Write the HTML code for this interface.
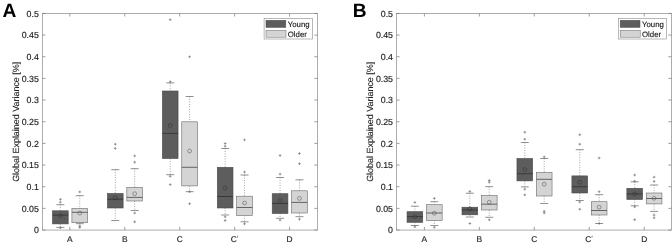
<!DOCTYPE html>
<html><head><meta charset="utf-8"><title>Boxplots</title>
<style>
html,body{margin:0;padding:0;background:#fff;}
svg{display:block;text-rendering:geometricPrecision;font-family:"Liberation Sans",sans-serif;}
.wh{stroke:#555;stroke-width:0.6;stroke-dasharray:0.9 1.6;}
.cap{stroke:#555;stroke-width:0.65;}
.out{stroke:#727272;stroke-width:0.7;fill:none;}
.tk{stroke:#777;stroke-width:0.7;}
.tl{font-size:8.8px;fill:#222;stroke:#222;stroke-width:0.15;}
.xl{font-size:8.4px;}
.yl{font-size:8.95px;fill:#222;stroke:#222;stroke-width:0.1;}
.lg{font-size:7.8px;fill:#111;stroke:#111;stroke-width:0.12;}
.pl{font-size:19.2px;font-weight:bold;fill:#000;}
</style></head><body>
<svg width="672" height="243" viewBox="0 0 672 243">
<defs><filter id="bl" x="0" y="0" width="672" height="243" filterUnits="userSpaceOnUse"><feGaussianBlur stdDeviation="0.35"/></filter></defs>
<rect width="672" height="243" fill="#fff"/>
<g filter="url(#bl)">
<line x1="60.35" y1="204.70" x2="60.35" y2="210.80" class="wh"/>
<line x1="60.35" y1="223.90" x2="60.35" y2="227.40" class="wh"/>
<line x1="56.35" y1="204.70" x2="64.35" y2="204.70" class="cap"/>
<line x1="56.35" y1="227.40" x2="64.35" y2="227.40" class="cap"/>
<rect x="52.50" y="210.80" width="15.70" height="13.10" fill="#5d5d5d" stroke="#4a4a4a" stroke-width="0.6"/>
<line x1="52.50" y1="215.10" x2="68.20" y2="215.10" stroke="#2e2e2e" stroke-width="0.8"/>
<circle cx="60.35" cy="215.70" r="1.9" fill="none" stroke="#2e2e2e" stroke-width="0.5"/>
<path d="M59.05 202.20h2.6M60.35 200.90v2.6" class="out"/>
<path d="M59.05 199.30h2.6M60.35 198.00v2.6" class="out"/>
<path d="M59.05 227.80h2.6M60.35 226.50v2.6" class="out"/>
<line x1="79.75" y1="195.70" x2="79.75" y2="208.50" class="wh"/>
<line x1="79.75" y1="222.70" x2="79.75" y2="223.70" class="wh"/>
<line x1="75.75" y1="195.70" x2="83.75" y2="195.70" class="cap"/>
<line x1="75.75" y1="223.70" x2="83.75" y2="223.70" class="cap"/>
<rect x="71.90" y="208.50" width="15.70" height="14.20" fill="#d4d4d4" stroke="#6a6a6a" stroke-width="0.6"/>
<line x1="71.90" y1="212.30" x2="87.60" y2="212.30" stroke="#484848" stroke-width="0.8"/>
<circle cx="79.75" cy="213.10" r="1.9" fill="none" stroke="#484848" stroke-width="0.5"/>
<path d="M78.45 191.90h2.6M79.75 190.60v2.6" class="out"/>
<path d="M78.45 225.90h2.6M79.75 224.60v2.6" class="out"/>
<path d="M78.45 227.40h2.6M79.75 226.10v2.6" class="out"/>
<line x1="115.28" y1="169.70" x2="115.28" y2="193.50" class="wh"/>
<line x1="115.28" y1="208.00" x2="115.28" y2="220.50" class="wh"/>
<line x1="111.28" y1="169.70" x2="119.28" y2="169.70" class="cap"/>
<line x1="111.28" y1="220.50" x2="119.28" y2="220.50" class="cap"/>
<rect x="107.43" y="193.50" width="15.70" height="14.50" fill="#5d5d5d" stroke="#4a4a4a" stroke-width="0.6"/>
<line x1="107.43" y1="199.20" x2="123.13" y2="199.20" stroke="#2e2e2e" stroke-width="0.8"/>
<circle cx="115.28" cy="197.90" r="1.9" fill="none" stroke="#2e2e2e" stroke-width="0.5"/>
<path d="M113.98 144.20h2.6M115.28 142.90v2.6" class="out"/>
<path d="M113.98 148.40h2.6M115.28 147.10v2.6" class="out"/>
<line x1="134.68" y1="168.70" x2="134.68" y2="187.40" class="wh"/>
<line x1="134.68" y1="201.00" x2="134.68" y2="210.50" class="wh"/>
<line x1="130.68" y1="168.70" x2="138.68" y2="168.70" class="cap"/>
<line x1="130.68" y1="210.50" x2="138.68" y2="210.50" class="cap"/>
<rect x="126.83" y="187.40" width="15.70" height="13.60" fill="#d4d4d4" stroke="#6a6a6a" stroke-width="0.6"/>
<line x1="126.83" y1="197.40" x2="142.53" y2="197.40" stroke="#484848" stroke-width="0.8"/>
<circle cx="134.68" cy="193.70" r="1.9" fill="none" stroke="#484848" stroke-width="0.5"/>
<path d="M133.38 155.90h2.6M134.68 154.60v2.6" class="out"/>
<path d="M133.38 162.20h2.6M134.68 160.90v2.6" class="out"/>
<path d="M133.38 213.00h2.6M134.68 211.70v2.6" class="out"/>
<path d="M133.38 221.80h2.6M134.68 220.50v2.6" class="out"/>
<line x1="170.21" y1="82.90" x2="170.21" y2="91.00" class="wh"/>
<line x1="170.21" y1="158.50" x2="170.21" y2="174.70" class="wh"/>
<line x1="166.21" y1="82.90" x2="174.21" y2="82.90" class="cap"/>
<line x1="166.21" y1="174.70" x2="174.21" y2="174.70" class="cap"/>
<rect x="162.36" y="91.00" width="15.70" height="67.50" fill="#5d5d5d" stroke="#4a4a4a" stroke-width="0.6"/>
<line x1="162.36" y1="133.40" x2="178.06" y2="133.40" stroke="#2e2e2e" stroke-width="0.8"/>
<circle cx="170.21" cy="125.40" r="1.9" fill="none" stroke="#2e2e2e" stroke-width="0.5"/>
<path d="M168.91 19.70h2.6M170.21 18.40v2.6" class="out"/>
<path d="M168.91 81.70h2.6M170.21 80.40v2.6" class="out"/>
<path d="M168.91 176.30h2.6M170.21 175.00v2.6" class="out"/>
<path d="M168.91 184.60h2.6M170.21 183.30v2.6" class="out"/>
<line x1="189.61" y1="96.50" x2="189.61" y2="121.80" class="wh"/>
<line x1="189.61" y1="185.90" x2="189.61" y2="191.70" class="wh"/>
<line x1="185.61" y1="96.50" x2="193.61" y2="96.50" class="cap"/>
<line x1="185.61" y1="191.70" x2="193.61" y2="191.70" class="cap"/>
<rect x="181.76" y="121.80" width="15.70" height="64.10" fill="#d4d4d4" stroke="#6a6a6a" stroke-width="0.6"/>
<line x1="181.76" y1="167.30" x2="197.46" y2="167.30" stroke="#484848" stroke-width="0.8"/>
<circle cx="189.61" cy="151.00" r="1.9" fill="none" stroke="#484848" stroke-width="0.5"/>
<path d="M188.31 56.80h2.6M189.61 55.50v2.6" class="out"/>
<path d="M188.31 191.70h2.6M189.61 190.40v2.6" class="out"/>
<path d="M188.31 203.70h2.6M189.61 202.40v2.6" class="out"/>
<line x1="225.14" y1="148.50" x2="225.14" y2="167.30" class="wh"/>
<line x1="225.14" y1="208.00" x2="225.14" y2="215.00" class="wh"/>
<line x1="221.14" y1="148.50" x2="229.14" y2="148.50" class="cap"/>
<line x1="221.14" y1="215.00" x2="229.14" y2="215.00" class="cap"/>
<rect x="217.29" y="167.30" width="15.70" height="40.70" fill="#5d5d5d" stroke="#4a4a4a" stroke-width="0.6"/>
<line x1="217.29" y1="196.50" x2="232.99" y2="196.50" stroke="#2e2e2e" stroke-width="0.8"/>
<circle cx="225.14" cy="187.90" r="1.9" fill="none" stroke="#2e2e2e" stroke-width="0.5"/>
<path d="M223.84 143.50h2.6M225.14 142.20v2.6" class="out"/>
<path d="M223.84 146.20h2.6M225.14 144.90v2.6" class="out"/>
<path d="M223.84 216.80h2.6M225.14 215.50v2.6" class="out"/>
<path d="M223.84 220.50h2.6M225.14 219.20v2.6" class="out"/>
<line x1="244.54" y1="175.00" x2="244.54" y2="196.20" class="wh"/>
<line x1="244.54" y1="215.50" x2="244.54" y2="221.80" class="wh"/>
<line x1="240.54" y1="175.00" x2="248.54" y2="175.00" class="cap"/>
<line x1="240.54" y1="221.80" x2="248.54" y2="221.80" class="cap"/>
<rect x="236.69" y="196.20" width="15.70" height="19.30" fill="#d4d4d4" stroke="#6a6a6a" stroke-width="0.6"/>
<line x1="236.69" y1="207.50" x2="252.39" y2="207.50" stroke="#484848" stroke-width="0.8"/>
<circle cx="244.54" cy="203.00" r="1.9" fill="none" stroke="#484848" stroke-width="0.5"/>
<path d="M243.24 139.90h2.6M244.54 138.60v2.6" class="out"/>
<path d="M243.24 172.00h2.6M244.54 170.70v2.6" class="out"/>
<path d="M243.24 223.80h2.6M244.54 222.50v2.6" class="out"/>
<line x1="280.07" y1="177.50" x2="280.07" y2="193.70" class="wh"/>
<line x1="280.07" y1="213.50" x2="280.07" y2="218.30" class="wh"/>
<line x1="276.07" y1="177.50" x2="284.07" y2="177.50" class="cap"/>
<line x1="276.07" y1="218.30" x2="284.07" y2="218.30" class="cap"/>
<rect x="272.22" y="193.70" width="15.70" height="19.80" fill="#5d5d5d" stroke="#4a4a4a" stroke-width="0.6"/>
<line x1="272.22" y1="203.40" x2="287.92" y2="203.40" stroke="#2e2e2e" stroke-width="0.8"/>
<circle cx="280.07" cy="200.40" r="1.9" fill="none" stroke="#2e2e2e" stroke-width="0.5"/>
<path d="M278.77 155.50h2.6M280.07 154.20v2.6" class="out"/>
<path d="M278.77 174.10h2.6M280.07 172.80v2.6" class="out"/>
<path d="M278.77 220.00h2.6M280.07 218.70v2.6" class="out"/>
<line x1="299.47" y1="179.80" x2="299.47" y2="190.80" class="wh"/>
<line x1="299.47" y1="213.00" x2="299.47" y2="216.70" class="wh"/>
<line x1="295.47" y1="179.80" x2="303.47" y2="179.80" class="cap"/>
<line x1="295.47" y1="216.70" x2="303.47" y2="216.70" class="cap"/>
<rect x="291.62" y="190.80" width="15.70" height="22.20" fill="#d4d4d4" stroke="#6a6a6a" stroke-width="0.6"/>
<line x1="291.62" y1="202.40" x2="307.32" y2="202.40" stroke="#484848" stroke-width="0.8"/>
<circle cx="299.47" cy="198.40" r="1.9" fill="none" stroke="#484848" stroke-width="0.5"/>
<path d="M298.17 153.50h2.6M299.47 152.20v2.6" class="out"/>
<path d="M298.17 163.70h2.6M299.47 162.40v2.6" class="out"/>
<path d="M298.17 219.20h2.6M299.47 217.90v2.6" class="out"/>
<rect x="42.45" y="13.40" width="274.95" height="216.65" fill="none" stroke="#8a8a8a" stroke-width="0.7"/>
<line x1="42.45" y1="230.05" x2="45.55" y2="230.05" class="tk"/>
<line x1="317.40" y1="230.05" x2="314.30" y2="230.05" class="tk"/>
<text x="38.85" y="233.35" text-anchor="end" class="tl">0</text>
<line x1="42.45" y1="208.39" x2="45.55" y2="208.39" class="tk"/>
<line x1="317.40" y1="208.39" x2="314.30" y2="208.39" class="tk"/>
<text x="38.85" y="211.69" text-anchor="end" class="tl">0.05</text>
<line x1="42.45" y1="186.72" x2="45.55" y2="186.72" class="tk"/>
<line x1="317.40" y1="186.72" x2="314.30" y2="186.72" class="tk"/>
<text x="38.85" y="190.02" text-anchor="end" class="tl">0.1</text>
<line x1="42.45" y1="165.06" x2="45.55" y2="165.06" class="tk"/>
<line x1="317.40" y1="165.06" x2="314.30" y2="165.06" class="tk"/>
<text x="38.85" y="168.36" text-anchor="end" class="tl">0.15</text>
<line x1="42.45" y1="143.39" x2="45.55" y2="143.39" class="tk"/>
<line x1="317.40" y1="143.39" x2="314.30" y2="143.39" class="tk"/>
<text x="38.85" y="146.69" text-anchor="end" class="tl">0.2</text>
<line x1="42.45" y1="121.73" x2="45.55" y2="121.73" class="tk"/>
<line x1="317.40" y1="121.73" x2="314.30" y2="121.73" class="tk"/>
<text x="38.85" y="125.03" text-anchor="end" class="tl">0.25</text>
<line x1="42.45" y1="100.06" x2="45.55" y2="100.06" class="tk"/>
<line x1="317.40" y1="100.06" x2="314.30" y2="100.06" class="tk"/>
<text x="38.85" y="103.36" text-anchor="end" class="tl">0.3</text>
<line x1="42.45" y1="78.39" x2="45.55" y2="78.39" class="tk"/>
<line x1="317.40" y1="78.39" x2="314.30" y2="78.39" class="tk"/>
<text x="38.85" y="81.69" text-anchor="end" class="tl">0.35</text>
<line x1="42.45" y1="56.73" x2="45.55" y2="56.73" class="tk"/>
<line x1="317.40" y1="56.73" x2="314.30" y2="56.73" class="tk"/>
<text x="38.85" y="60.03" text-anchor="end" class="tl">0.4</text>
<line x1="42.45" y1="35.06" x2="45.55" y2="35.06" class="tk"/>
<line x1="317.40" y1="35.06" x2="314.30" y2="35.06" class="tk"/>
<text x="38.85" y="38.36" text-anchor="end" class="tl">0.45</text>
<line x1="42.45" y1="13.40" x2="45.55" y2="13.40" class="tk"/>
<line x1="317.40" y1="13.40" x2="314.30" y2="13.40" class="tk"/>
<text x="38.85" y="16.70" text-anchor="end" class="tl">0.5</text>
<line x1="69.85" y1="230.05" x2="69.85" y2="226.95" class="tk"/>
<line x1="69.85" y1="13.40" x2="69.85" y2="16.50" class="tk"/>
<text x="69.85" y="241.65" text-anchor="middle" class="tl xl">A</text>
<line x1="124.78" y1="230.05" x2="124.78" y2="226.95" class="tk"/>
<line x1="124.78" y1="13.40" x2="124.78" y2="16.50" class="tk"/>
<text x="124.78" y="241.65" text-anchor="middle" class="tl xl">B</text>
<line x1="179.71" y1="230.05" x2="179.71" y2="226.95" class="tk"/>
<line x1="179.71" y1="13.40" x2="179.71" y2="16.50" class="tk"/>
<text x="179.71" y="241.65" text-anchor="middle" class="tl xl">C</text>
<line x1="234.64" y1="230.05" x2="234.64" y2="226.95" class="tk"/>
<line x1="234.64" y1="13.40" x2="234.64" y2="16.50" class="tk"/>
<text x="233.74" y="241.65" text-anchor="middle" class="tl xl">C</text>
<path d="M237.64 235.65l-0.3 1.9" stroke="#555" stroke-width="0.7" fill="none"/>
<line x1="289.57" y1="230.05" x2="289.57" y2="226.95" class="tk"/>
<line x1="289.57" y1="13.40" x2="289.57" y2="16.50" class="tk"/>
<text x="289.57" y="241.65" text-anchor="middle" class="tl xl">D</text>
<text transform="translate(18.50 121.8) rotate(-90)" text-anchor="middle" class="yl">Global Explained Variance [%]</text>
<text x="2.60" y="16.6" class="pl">A</text>
<rect x="264.10" y="18.4" width="48.3" height="20.6" fill="#fff" stroke="#8a8a8a" stroke-width="0.6"/>
<rect x="266.00" y="20.3" width="19.8" height="7.1" fill="#5d5d5d" stroke="#4a4a4a" stroke-width="0.5"/>
<rect x="266.00" y="30.3" width="20" height="6.9" fill="#d4d4d4" stroke="#6a6a6a" stroke-width="0.5"/>
<text x="287.80" y="26.8" class="lg">Young</text>
<text x="287.80" y="36.8" class="lg">Older</text>
<line x1="414.90" y1="206.20" x2="414.90" y2="211.70" class="wh"/>
<line x1="414.90" y1="222.30" x2="414.90" y2="225.50" class="wh"/>
<line x1="410.90" y1="206.20" x2="418.90" y2="206.20" class="cap"/>
<line x1="410.90" y1="225.50" x2="418.90" y2="225.50" class="cap"/>
<rect x="407.05" y="211.70" width="15.70" height="10.60" fill="#5d5d5d" stroke="#4a4a4a" stroke-width="0.6"/>
<line x1="407.05" y1="216.70" x2="422.75" y2="216.70" stroke="#2e2e2e" stroke-width="0.8"/>
<circle cx="414.90" cy="216.70" r="1.9" fill="none" stroke="#2e2e2e" stroke-width="0.5"/>
<path d="M413.60 202.40h2.6M414.90 201.10v2.6" class="out"/>
<path d="M413.60 226.80h2.6M414.90 225.50v2.6" class="out"/>
<line x1="434.30" y1="201.70" x2="434.30" y2="204.70" class="wh"/>
<line x1="434.30" y1="220.50" x2="434.30" y2="225.50" class="wh"/>
<line x1="430.30" y1="201.70" x2="438.30" y2="201.70" class="cap"/>
<line x1="430.30" y1="225.50" x2="438.30" y2="225.50" class="cap"/>
<rect x="426.45" y="204.70" width="15.70" height="15.80" fill="#d4d4d4" stroke="#6a6a6a" stroke-width="0.6"/>
<line x1="426.45" y1="213.00" x2="442.15" y2="213.00" stroke="#484848" stroke-width="0.8"/>
<circle cx="434.30" cy="213.20" r="1.9" fill="none" stroke="#484848" stroke-width="0.5"/>
<path d="M433.00 198.40h2.6M434.30 197.10v2.6" class="out"/>
<path d="M433.00 227.30h2.6M434.30 226.00v2.6" class="out"/>
<line x1="469.85" y1="193.20" x2="469.85" y2="207.20" class="wh"/>
<line x1="469.85" y1="214.80" x2="469.85" y2="217.00" class="wh"/>
<line x1="465.85" y1="193.20" x2="473.85" y2="193.20" class="cap"/>
<line x1="465.85" y1="217.00" x2="473.85" y2="217.00" class="cap"/>
<rect x="462.00" y="207.20" width="15.70" height="7.60" fill="#5d5d5d" stroke="#4a4a4a" stroke-width="0.6"/>
<line x1="462.00" y1="210.00" x2="477.70" y2="210.00" stroke="#2e2e2e" stroke-width="0.8"/>
<circle cx="469.85" cy="208.90" r="1.9" fill="none" stroke="#2e2e2e" stroke-width="0.5"/>
<path d="M468.55 191.40h2.6M469.85 190.10v2.6" class="out"/>
<path d="M468.55 223.50h2.6M469.85 222.20v2.6" class="out"/>
<line x1="489.25" y1="186.70" x2="489.25" y2="195.50" class="wh"/>
<line x1="489.25" y1="210.00" x2="489.25" y2="217.30" class="wh"/>
<line x1="485.25" y1="186.70" x2="493.25" y2="186.70" class="cap"/>
<line x1="485.25" y1="217.30" x2="493.25" y2="217.30" class="cap"/>
<rect x="481.40" y="195.50" width="15.70" height="14.50" fill="#d4d4d4" stroke="#6a6a6a" stroke-width="0.6"/>
<line x1="481.40" y1="204.20" x2="497.10" y2="204.20" stroke="#484848" stroke-width="0.8"/>
<circle cx="489.25" cy="202.20" r="1.9" fill="none" stroke="#484848" stroke-width="0.5"/>
<path d="M487.95 180.40h2.6M489.25 179.10v2.6" class="out"/>
<path d="M487.95 182.20h2.6M489.25 180.90v2.6" class="out"/>
<path d="M487.95 219.80h2.6M489.25 218.50v2.6" class="out"/>
<line x1="524.80" y1="142.50" x2="524.80" y2="158.50" class="wh"/>
<line x1="524.80" y1="180.90" x2="524.80" y2="186.90" class="wh"/>
<line x1="520.80" y1="142.50" x2="528.80" y2="142.50" class="cap"/>
<line x1="520.80" y1="186.90" x2="528.80" y2="186.90" class="cap"/>
<rect x="516.95" y="158.50" width="15.70" height="22.40" fill="#5d5d5d" stroke="#4a4a4a" stroke-width="0.6"/>
<line x1="516.95" y1="173.70" x2="532.65" y2="173.70" stroke="#2e2e2e" stroke-width="0.8"/>
<circle cx="524.80" cy="169.50" r="1.9" fill="none" stroke="#2e2e2e" stroke-width="0.5"/>
<path d="M523.50 132.20h2.6M524.80 130.90v2.6" class="out"/>
<path d="M523.50 139.20h2.6M524.80 137.90v2.6" class="out"/>
<path d="M523.50 189.20h2.6M524.80 187.90v2.6" class="out"/>
<path d="M523.50 194.90h2.6M524.80 193.60v2.6" class="out"/>
<line x1="544.20" y1="158.50" x2="544.20" y2="172.40" class="wh"/>
<line x1="544.20" y1="196.00" x2="544.20" y2="203.50" class="wh"/>
<line x1="540.20" y1="158.50" x2="548.20" y2="158.50" class="cap"/>
<line x1="540.20" y1="203.50" x2="548.20" y2="203.50" class="cap"/>
<rect x="536.35" y="172.40" width="15.70" height="23.60" fill="#d4d4d4" stroke="#6a6a6a" stroke-width="0.6"/>
<line x1="536.35" y1="179.30" x2="552.05" y2="179.30" stroke="#484848" stroke-width="0.8"/>
<circle cx="544.20" cy="184.20" r="1.9" fill="none" stroke="#484848" stroke-width="0.5"/>
<path d="M542.90 156.90h2.6M544.20 155.60v2.6" class="out"/>
<path d="M542.90 211.30h2.6M544.20 210.00v2.6" class="out"/>
<path d="M542.90 213.00h2.6M544.20 211.70v2.6" class="out"/>
<line x1="579.75" y1="149.70" x2="579.75" y2="175.90" class="wh"/>
<line x1="579.75" y1="193.00" x2="579.75" y2="200.50" class="wh"/>
<line x1="575.75" y1="149.70" x2="583.75" y2="149.70" class="cap"/>
<line x1="575.75" y1="200.50" x2="583.75" y2="200.50" class="cap"/>
<rect x="571.90" y="175.90" width="15.70" height="17.10" fill="#5d5d5d" stroke="#4a4a4a" stroke-width="0.6"/>
<line x1="571.90" y1="186.70" x2="587.60" y2="186.70" stroke="#2e2e2e" stroke-width="0.8"/>
<circle cx="579.75" cy="182.20" r="1.9" fill="none" stroke="#2e2e2e" stroke-width="0.5"/>
<path d="M578.45 134.70h2.6M579.75 133.40v2.6" class="out"/>
<path d="M578.45 144.20h2.6M579.75 142.90v2.6" class="out"/>
<path d="M578.45 202.00h2.6M579.75 200.70v2.6" class="out"/>
<path d="M578.45 209.20h2.6M579.75 207.90v2.6" class="out"/>
<line x1="599.15" y1="194.70" x2="599.15" y2="201.70" class="wh"/>
<line x1="599.15" y1="215.00" x2="599.15" y2="223.50" class="wh"/>
<line x1="595.15" y1="194.70" x2="603.15" y2="194.70" class="cap"/>
<line x1="595.15" y1="223.50" x2="603.15" y2="223.50" class="cap"/>
<rect x="591.30" y="201.70" width="15.70" height="13.30" fill="#d4d4d4" stroke="#6a6a6a" stroke-width="0.6"/>
<line x1="591.30" y1="210.50" x2="607.00" y2="210.50" stroke="#484848" stroke-width="0.8"/>
<circle cx="599.15" cy="207.20" r="1.9" fill="none" stroke="#484848" stroke-width="0.5"/>
<path d="M597.85 158.00h2.6M599.15 156.70v2.6" class="out"/>
<path d="M597.85 191.70h2.6M599.15 190.40v2.6" class="out"/>
<path d="M597.85 223.50h2.6M599.15 222.20v2.6" class="out"/>
<line x1="634.70" y1="181.80" x2="634.70" y2="188.30" class="wh"/>
<line x1="634.70" y1="199.50" x2="634.70" y2="205.80" class="wh"/>
<line x1="630.70" y1="181.80" x2="638.70" y2="181.80" class="cap"/>
<line x1="630.70" y1="205.80" x2="638.70" y2="205.80" class="cap"/>
<rect x="626.85" y="188.30" width="15.70" height="11.20" fill="#5d5d5d" stroke="#4a4a4a" stroke-width="0.6"/>
<line x1="626.85" y1="193.90" x2="642.55" y2="193.90" stroke="#2e2e2e" stroke-width="0.8"/>
<circle cx="634.70" cy="193.90" r="1.9" fill="none" stroke="#2e2e2e" stroke-width="0.5"/>
<path d="M633.40 175.00h2.6M634.70 173.70v2.6" class="out"/>
<path d="M633.40 181.20h2.6M634.70 179.90v2.6" class="out"/>
<path d="M633.40 206.90h2.6M634.70 205.60v2.6" class="out"/>
<path d="M633.40 219.70h2.6M634.70 218.40v2.6" class="out"/>
<line x1="654.10" y1="185.00" x2="654.10" y2="193.00" class="wh"/>
<line x1="654.10" y1="203.90" x2="654.10" y2="211.40" class="wh"/>
<line x1="650.10" y1="185.00" x2="658.10" y2="185.00" class="cap"/>
<line x1="650.10" y1="211.40" x2="658.10" y2="211.40" class="cap"/>
<rect x="646.25" y="193.00" width="15.70" height="10.90" fill="#d4d4d4" stroke="#6a6a6a" stroke-width="0.6"/>
<line x1="646.25" y1="198.50" x2="661.95" y2="198.50" stroke="#484848" stroke-width="0.8"/>
<circle cx="654.10" cy="198.30" r="1.9" fill="none" stroke="#484848" stroke-width="0.5"/>
<path d="M652.80 177.10h2.6M654.10 175.80v2.6" class="out"/>
<path d="M652.80 181.40h2.6M654.10 180.10v2.6" class="out"/>
<path d="M652.80 215.00h2.6M654.10 213.70v2.6" class="out"/>
<path d="M652.80 217.80h2.6M654.10 216.50v2.6" class="out"/>
<rect x="396.50" y="13.40" width="274.90" height="216.65" fill="none" stroke="#8a8a8a" stroke-width="0.7"/>
<line x1="396.50" y1="230.05" x2="399.60" y2="230.05" class="tk"/>
<line x1="671.40" y1="230.05" x2="668.30" y2="230.05" class="tk"/>
<text x="393.00" y="233.35" text-anchor="end" class="tl">0</text>
<line x1="396.50" y1="208.39" x2="399.60" y2="208.39" class="tk"/>
<line x1="671.40" y1="208.39" x2="668.30" y2="208.39" class="tk"/>
<text x="393.00" y="211.69" text-anchor="end" class="tl">0.05</text>
<line x1="396.50" y1="186.72" x2="399.60" y2="186.72" class="tk"/>
<line x1="671.40" y1="186.72" x2="668.30" y2="186.72" class="tk"/>
<text x="393.00" y="190.02" text-anchor="end" class="tl">0.1</text>
<line x1="396.50" y1="165.06" x2="399.60" y2="165.06" class="tk"/>
<line x1="671.40" y1="165.06" x2="668.30" y2="165.06" class="tk"/>
<text x="393.00" y="168.36" text-anchor="end" class="tl">0.15</text>
<line x1="396.50" y1="143.39" x2="399.60" y2="143.39" class="tk"/>
<line x1="671.40" y1="143.39" x2="668.30" y2="143.39" class="tk"/>
<text x="393.00" y="146.69" text-anchor="end" class="tl">0.2</text>
<line x1="396.50" y1="121.73" x2="399.60" y2="121.73" class="tk"/>
<line x1="671.40" y1="121.73" x2="668.30" y2="121.73" class="tk"/>
<text x="393.00" y="125.03" text-anchor="end" class="tl">0.25</text>
<line x1="396.50" y1="100.06" x2="399.60" y2="100.06" class="tk"/>
<line x1="671.40" y1="100.06" x2="668.30" y2="100.06" class="tk"/>
<text x="393.00" y="103.36" text-anchor="end" class="tl">0.3</text>
<line x1="396.50" y1="78.39" x2="399.60" y2="78.39" class="tk"/>
<line x1="671.40" y1="78.39" x2="668.30" y2="78.39" class="tk"/>
<text x="393.00" y="81.69" text-anchor="end" class="tl">0.35</text>
<line x1="396.50" y1="56.73" x2="399.60" y2="56.73" class="tk"/>
<line x1="671.40" y1="56.73" x2="668.30" y2="56.73" class="tk"/>
<text x="393.00" y="60.03" text-anchor="end" class="tl">0.4</text>
<line x1="396.50" y1="35.06" x2="399.60" y2="35.06" class="tk"/>
<line x1="671.40" y1="35.06" x2="668.30" y2="35.06" class="tk"/>
<text x="393.00" y="38.36" text-anchor="end" class="tl">0.45</text>
<line x1="396.50" y1="13.40" x2="399.60" y2="13.40" class="tk"/>
<line x1="671.40" y1="13.40" x2="668.30" y2="13.40" class="tk"/>
<text x="393.00" y="16.70" text-anchor="end" class="tl">0.5</text>
<line x1="424.40" y1="230.05" x2="424.40" y2="226.95" class="tk"/>
<line x1="424.40" y1="13.40" x2="424.40" y2="16.50" class="tk"/>
<text x="424.40" y="241.65" text-anchor="middle" class="tl xl">A</text>
<line x1="479.35" y1="230.05" x2="479.35" y2="226.95" class="tk"/>
<line x1="479.35" y1="13.40" x2="479.35" y2="16.50" class="tk"/>
<text x="479.35" y="241.65" text-anchor="middle" class="tl xl">B</text>
<line x1="534.30" y1="230.05" x2="534.30" y2="226.95" class="tk"/>
<line x1="534.30" y1="13.40" x2="534.30" y2="16.50" class="tk"/>
<text x="534.30" y="241.65" text-anchor="middle" class="tl xl">C</text>
<line x1="589.25" y1="230.05" x2="589.25" y2="226.95" class="tk"/>
<line x1="589.25" y1="13.40" x2="589.25" y2="16.50" class="tk"/>
<text x="588.35" y="241.65" text-anchor="middle" class="tl xl">C</text>
<path d="M592.25 235.65l-0.3 1.9" stroke="#555" stroke-width="0.7" fill="none"/>
<line x1="644.20" y1="230.05" x2="644.20" y2="226.95" class="tk"/>
<line x1="644.20" y1="13.40" x2="644.20" y2="16.50" class="tk"/>
<text x="644.20" y="241.65" text-anchor="middle" class="tl xl">D</text>
<text transform="translate(373.30 121.8) rotate(-90)" text-anchor="middle" class="yl">Global Explained Variance [%]</text>
<text x="352.80" y="16.6" class="pl">B</text>
<rect x="618.30" y="18.4" width="48.3" height="20.6" fill="#fff" stroke="#8a8a8a" stroke-width="0.6"/>
<rect x="620.20" y="20.3" width="19.8" height="7.1" fill="#5d5d5d" stroke="#4a4a4a" stroke-width="0.5"/>
<rect x="620.20" y="30.3" width="20" height="6.9" fill="#d4d4d4" stroke="#6a6a6a" stroke-width="0.5"/>
<text x="642.00" y="26.8" class="lg">Young</text>
<text x="642.00" y="36.8" class="lg">Older</text>
</g>
</svg>
</body></html>
